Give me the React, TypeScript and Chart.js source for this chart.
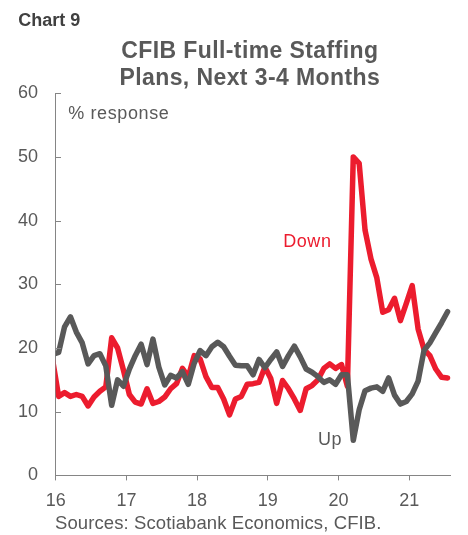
import React, { useEffect, useRef } from "react";
import { Chart, registerables } from "chart.js";

Chart.register(...registerables);

const FONT = '"Liberation Sans", Arial, Helvetica, sans-serif';
const RED = "#EC1C2E";
const GREY = "#595959";
const TEXT = "#595959";
const AXIS = "#858585";

// Survey months (readings are plotted mid-month; Dec-15 runs in from the left edge)
const months = [
  "Dec-15",
  "Jan-16", "Feb-16", "Mar-16", "Apr-16", "May-16", "Jun-16", "Jul-16", "Aug-16", "Sep-16", "Oct-16", "Nov-16", "Dec-16",
  "Jan-17", "Feb-17", "Mar-17", "Apr-17", "May-17", "Jun-17", "Jul-17", "Aug-17", "Sep-17", "Oct-17", "Nov-17", "Dec-17",
  "Jan-18", "Feb-18", "Mar-18", "Apr-18", "May-18", "Jun-18", "Jul-18", "Aug-18", "Sep-18", "Oct-18", "Nov-18", "Dec-18",
  "Jan-19", "Feb-19", "Mar-19", "Apr-19", "May-19", "Jun-19", "Jul-19", "Aug-19", "Sep-19", "Oct-19", "Nov-19", "Dec-19",
  "Jan-20", "Feb-20", "Mar-20", "Apr-20", "May-20", "Jun-20", "Jul-20", "Aug-20", "Sep-20", "Oct-20", "Nov-20", "Dec-20",
  "Jan-21", "Feb-21", "Mar-21", "Apr-21", "May-21", "Jun-21", "Jul-21",
];

// % of firms planning to increase full-time staff
const up = [
  19.0,
  19.3, 23.3, 24.9, 22.5, 20.8, 17.5, 18.8, 19.1, 17.2, 11.0, 15.0, 14.0,
  16.7, 18.8, 20.6, 17.4, 21.4, 17.0, 14.2, 15.7, 15.3, 16.3, 14.3, 17.6,
  19.6, 18.8, 20.2, 20.9, 20.2, 18.7, 17.3, 17.2, 17.2, 15.8, 18.2, 16.9,
  18.2, 19.4, 17.1, 18.8, 20.3, 18.6, 16.7, 16.2, 15.5, 14.6, 15.0, 14.3,
  15.8, 15.8, 5.5, 10.3, 13.3, 13.7, 13.9, 13.2, 15.3, 12.6, 11.2, 11.6,
  12.8, 14.8, 19.6, 20.8, 22.4, 24.0, 25.7,
];

// % of firms planning to decrease full-time staff
const down = [
  18.0,
  12.4, 13.0, 12.4, 12.7, 12.4, 10.9, 12.3, 13.2, 13.9, 21.6, 20.0, 16.5,
  12.7, 11.5, 11.2, 13.6, 11.3, 11.6, 12.3, 13.6, 14.4, 16.8, 15.5, 18.8,
  18.3, 15.5, 13.8, 13.8, 12.0, 9.5, 12.0, 12.4, 14.3, 14.4, 14.6, 17.0,
  15.2, 11.3, 14.9, 13.6, 12.0, 10.2, 13.6, 14.1, 15.0, 16.8, 17.5, 16.8,
  17.4, 14.0, 50.0, 49.0, 38.5, 34.0, 31.0, 25.6, 26.0, 27.8, 24.3, 27.0,
  29.8, 23.0, 19.8, 18.8, 16.7, 15.4, 15.3,
];

// x axis runs in months from Jan 2016; year ticks every 12 months
const yearTicks = [0, 12, 24, 36, 48, 60];
const yearLabels = ["16", "17", "18", "19", "20", "21"];
const yTicks = [0, 10, 20, 30, 40, 50, 60];

// series labels placed in data coordinates (months, %)
const downLabel = { text: "Down", x: 38.6, y: 35.9 };
const upLabel = { text: "Up", x: 44.5, y: 4.8 };

const toPoints = (vals: number[]) =>
  vals.map((v, i) => ({ x: i - 0.5, y: v, label: months[i] }));

const overlayPlugin = {
  id: "overlay",
  afterDatasetsDraw(chart: any) {
    const { ctx, chartArea } = chart;
    const xs = chart.scales.x;
    const ys = chart.scales.y;
    ctx.save();
    // inward tick marks on the value axis
    ctx.strokeStyle = AXIS;
    ctx.lineWidth = 1;
    const left = Math.round(chartArea.left);
    ys.ticks.forEach((t: any) => {
      const py = Math.round(ys.getPixelForValue(t.value)) + 0.5;
      ctx.beginPath();
      ctx.moveTo(left, py);
      ctx.lineTo(left + 5, py);
      ctx.stroke();
    });

    ctx.font = `18px ${FONT}`;
    ctx.textBaseline = "alphabetic";
    ctx.textAlign = "left";
    try {
      (ctx as any).letterSpacing = "0.6px";
    } catch (e) {}

    ctx.fillStyle = TEXT;
    ctx.fillText("% response", chartArea.left + 12.6, chartArea.top + 25.8);

    ctx.fillStyle = RED;
    ctx.fillText(downLabel.text, xs.getPixelForValue(downLabel.x), ys.getPixelForValue(downLabel.y));

    ctx.fillStyle = TEXT;
    ctx.fillText(upLabel.text, xs.getPixelForValue(upLabel.x), ys.getPixelForValue(upLabel.y));
    ctx.restore();
  },
};

function StaffingChart() {
  const ref = useRef<HTMLCanvasElement | null>(null);

  useEffect(() => {
    if (!ref.current) return;
    const lineStyle = {
      borderWidth: 5.5,
      pointRadius: 0,
      tension: 0,
      borderJoinStyle: "round",
      borderCapStyle: "round",
      clip: { left: 0, top: false, right: false, bottom: false },
    };
    const chart = new Chart(ref.current, {
      type: "line",
      data: {
        datasets: [
          {
            label: "Up",
            data: toPoints(up),
            borderColor: GREY,
            backgroundColor: GREY,
            ...lineStyle,
          },
          {
            label: "Down",
            data: toPoints(down),
            borderColor: RED,
            backgroundColor: RED,
            ...lineStyle,
          },
        ],
      } as any,
      options: {
        responsive: false,
        animation: false,
        devicePixelRatio: 1,
        parsing: false as any,
        layout: { padding: { top: 93.2, right: 17.5, left: 0, bottom: 0 } },
        plugins: {
          legend: { display: false },
          tooltip: { enabled: false },
          title: { display: false },
        },
        scales: {
          x: {
            type: "linear",
            min: 0,
            max: 67,
            afterBuildTicks: (scale: any) => {
              scale.ticks = yearTicks.map((v) => ({ value: v }));
            },
            afterFit: (scale: any) => {
              scale.height = 59.6;
            },
            ticks: {
              autoSkip: false,
              maxRotation: 0,
              padding: 10,
              color: TEXT,
              font: { family: FONT, size: 18 },
              callback: (v: any) => yearLabels[yearTicks.indexOf(Number(v))] ?? "",
            },
            grid: {
              display: true,
              drawOnChartArea: false,
              drawTicks: true,
              tickLength: 5,
              color: AXIS,
              lineWidth: 1,
            },
            border: { display: true, color: AXIS, width: 1 },
          },
          y: {
            type: "linear",
            min: 0,
            max: 60,
            afterBuildTicks: (scale: any) => {
              scale.ticks = yTicks.map((v) => ({ value: v }));
            },
            afterFit: (scale: any) => {
              scale.width = 55.7;
            },
            ticks: {
              padding: 17.7,
              color: TEXT,
              font: { family: FONT, size: 18 },
            },
            grid: { display: true, drawOnChartArea: false, drawTicks: false },
            border: { display: true, color: AXIS, width: 1 },
          },
        },
      } as any,
      plugins: [overlayPlugin],
    });
    return () => chart.destroy();
  }, []);

  return (
    <canvas
      ref={ref}
      width={468}
      height={535}
      style={{ position: "absolute", left: 0, top: 0, width: 468, height: 535 }}
    />
  );
}

export default function App() {
  const base: React.CSSProperties = {
    position: "absolute",
    whiteSpace: "nowrap",
    fontFamily: FONT,
  };
  const titleLine: React.CSSProperties = {
    ...base,
    left: 249.8,
    transform: "translateX(-50%)",
    fontSize: 23,
    lineHeight: "23px",
    fontWeight: 700,
    color: TEXT,
    letterSpacing: 0.4,
  };
  return (
    <div
      style={{
        position: "absolute",
        left: 0,
        top: 0,
        width: 468,
        height: 535,
        background: "#ffffff",
        overflow: "hidden",
      }}
    >
      <StaffingChart />
      <div style={{ ...base, left: 18.3, top: 10.8, fontSize: 18, lineHeight: "18px", fontWeight: 700, color: "#404040" }}>
        Chart 9
      </div>
      <div style={{ ...titleLine, top: 38.8 }}>CFIB Full-time Staffing</div>
      <div style={{ ...titleLine, top: 65.5 }}>Plans, Next 3-4 Months</div>
      <div style={{ ...base, left: 55, top: 514.3, fontSize: 18.5, lineHeight: "18.5px", color: TEXT, letterSpacing: 0.1 }}>
        Sources: Scotiabank Economics, CFIB.
      </div>
    </div>
  );
}
